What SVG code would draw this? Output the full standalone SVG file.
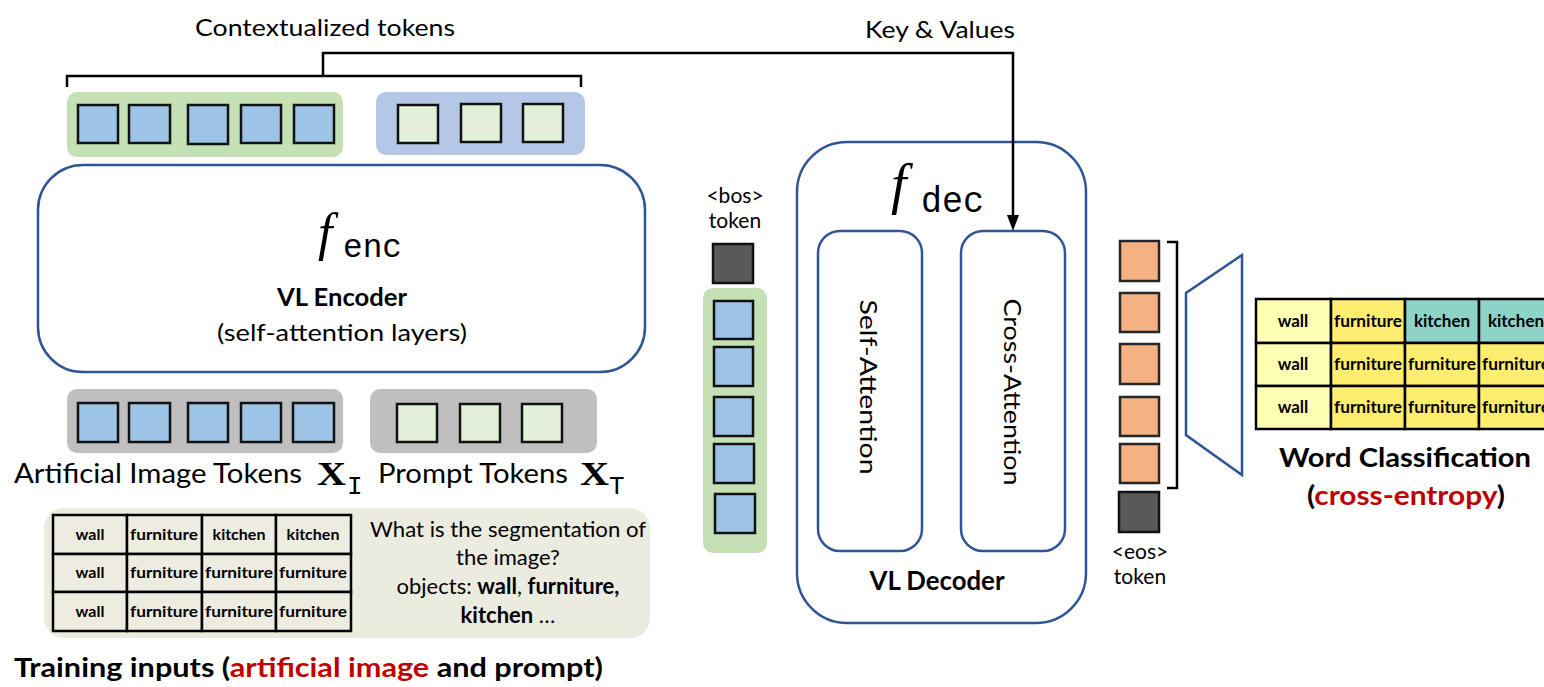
<svg xmlns="http://www.w3.org/2000/svg" width="1544" height="687" viewBox="0 0 1544 687">
<style>
text{font-family:Lato,"Open Sans","Liberation Sans",sans-serif;fill:#000}
.t24{font-size:24px}
.b{font-weight:bold}
.blk{stroke:#000;stroke-width:2.5;fill:none}
.blue{stroke:#2f5597;stroke-width:2.5;fill:#fff}
.bt{fill:#9dc3e6;stroke:#111;stroke-width:2.5}
.gt{fill:#e2f0d9;stroke:#111;stroke-width:2.5}
.ot{fill:#f4b183;stroke:#262626;stroke-width:2.5}
.dt{fill:#595959;stroke:#111;stroke-width:2.5}
.cell{stroke:#000;stroke-width:2.5}
.ct{font-size:16px;font-weight:bold;text-anchor:middle}
.rt{font-size:17px;font-weight:bold;text-anchor:middle}
.mf{font-family:"Liberation Serif","DejaVu Serif",serif;font-style:italic}
.mx{font-family:"Liberation Serif","DejaVu Serif",serif;font-weight:bold}
.mono{font-family:"Liberation Mono","DejaVu Sans Mono",monospace}
.mid{text-anchor:middle}
.tok{font-size:21px;text-anchor:middle}
</style>

<g id="labels-top">
<text class="t24" x="195" y="36" textLength="260" lengthAdjust="spacingAndGlyphs">Contextualized tokens</text>
<text class="t24" x="865" y="38" textLength="150" lengthAdjust="spacingAndGlyphs">Key &amp; Values</text>
</g>

<g id="context-tokens">
<rect x="67" y="92" width="276" height="65" rx="10" fill="#c5e0b4"/>
<rect x="376" y="92" width="209" height="63" rx="10" fill="#b4c7e7"/>
<rect class="bt" x="78" y="105" width="40" height="38"/>
<rect class="bt" x="129" y="105" width="41" height="38"/>
<rect class="bt" x="188" y="105" width="40" height="39"/>
<rect class="bt" x="241" y="105" width="40" height="38"/>
<rect class="bt" x="294" y="105" width="40" height="38"/>
<rect class="gt" x="398" y="105" width="40" height="38"/>
<rect class="gt" x="461" y="104" width="40" height="38"/>
<rect class="gt" x="523" y="104" width="40" height="38"/>
</g>

<g id="encoder">
<rect class="blue" x="38" y="165" width="607" height="207" rx="45"/>
<text class="mf" x="318" y="250" font-size="52">f</text>
<text class="mono" x="343" y="257" font-size="34" textLength="59" lengthAdjust="spacingAndGlyphs">enc</text>
<text class="b mid" x="342" y="306" font-size="25" textLength="130" lengthAdjust="spacingAndGlyphs">VL Encoder</text>
<text class="t24 mid" x="342" y="341" textLength="250" lengthAdjust="spacingAndGlyphs">(self-attention layers)</text>
</g>

<g id="input-tokens">
<rect x="67" y="389" width="276" height="64" rx="10" fill="#bfbfbf"/>
<rect x="370" y="389" width="227" height="64" rx="10" fill="#bfbfbf"/>
<rect class="bt" x="78" y="403" width="40" height="39"/>
<rect class="bt" x="129" y="403" width="41" height="39"/>
<rect class="bt" x="188" y="403" width="40" height="39"/>
<rect class="bt" x="241" y="403" width="40" height="39"/>
<rect class="bt" x="293" y="403" width="41" height="39"/>
<rect class="gt" x="397" y="404" width="40" height="38"/>
<rect class="gt" x="460" y="404" width="40" height="38"/>
<rect class="gt" x="522" y="404" width="40" height="38"/>
<text x="14" y="483" font-size="27" textLength="288" lengthAdjust="spacingAndGlyphs">Artificial Image Tokens</text>
<text class="mx" x="317" y="485" font-size="34" textLength="29" lengthAdjust="spacingAndGlyphs">X</text>
<text class="mono" x="347" y="494" font-size="26">I</text>
<text x="378" y="483" font-size="27" textLength="190" lengthAdjust="spacingAndGlyphs">Prompt Tokens</text>
<text class="mx" x="580" y="485" font-size="34" textLength="29" lengthAdjust="spacingAndGlyphs">X</text>
<text class="mono" x="609" y="494" font-size="26">T</text>
</g>

<g id="training-inputs">
<rect x="44" y="508" width="606" height="130" rx="20" fill="#ecebdf"/>
<g fill="#eeece1">
<rect class="cell" x="53" y="515" width="74" height="39"/>
<rect class="cell" x="127" y="515" width="75" height="39"/>
<rect class="cell" x="202" y="515" width="74" height="39"/>
<rect class="cell" x="276" y="515" width="75" height="39"/>
<rect class="cell" x="53" y="554" width="74" height="38"/>
<rect class="cell" x="127" y="554" width="75" height="38"/>
<rect class="cell" x="202" y="554" width="74" height="38"/>
<rect class="cell" x="276" y="554" width="75" height="38"/>
<rect class="cell" x="53" y="592" width="74" height="39"/>
<rect class="cell" x="127" y="592" width="75" height="39"/>
<rect class="cell" x="202" y="592" width="74" height="39"/>
<rect class="cell" x="276" y="592" width="75" height="39"/>
</g>
<text class="ct" x="90" y="540">wall</text>
<text class="ct" x="164" y="540" textLength="68" lengthAdjust="spacingAndGlyphs">furniture</text>
<text class="ct" x="239" y="540">kitchen</text>
<text class="ct" x="313" y="540">kitchen</text>
<text class="ct" x="90" y="578">wall</text>
<text class="ct" x="164" y="578" textLength="68" lengthAdjust="spacingAndGlyphs">furniture</text>
<text class="ct" x="239" y="578" textLength="68" lengthAdjust="spacingAndGlyphs">furniture</text>
<text class="ct" x="313" y="578" textLength="68" lengthAdjust="spacingAndGlyphs">furniture</text>
<text class="ct" x="90" y="617">wall</text>
<text class="ct" x="164" y="617" textLength="68" lengthAdjust="spacingAndGlyphs">furniture</text>
<text class="ct" x="239" y="617" textLength="68" lengthAdjust="spacingAndGlyphs">furniture</text>
<text class="ct" x="313" y="617" textLength="68" lengthAdjust="spacingAndGlyphs">furniture</text>
<text class="mid" x="508" y="537" font-size="22" textLength="276" lengthAdjust="spacingAndGlyphs">What is the segmentation of</text>
<text class="mid" x="508" y="565" font-size="22">the image?</text>
<text class="mid" x="508" y="594" font-size="22">objects: <tspan class="b">wall</tspan>, <tspan class="b">furniture,</tspan></text>
<text class="mid" x="508" y="623" font-size="22"><tspan class="b">kitchen</tspan> …</text>
<text class="b" x="14" y="677" font-size="26" textLength="589" lengthAdjust="spacingAndGlyphs">Training inputs (<tspan fill="#c00000">artificial image</tspan> and prompt)</text>
</g>

<g id="bos">
<text class="tok" x="735" y="203">&lt;bos&gt;</text>
<text class="tok" x="735" y="228">token</text>
<rect class="dt" x="713" y="244" width="40" height="39"/>
<rect x="703" y="288" width="64" height="265" rx="10" fill="#c5e0b4"/>
<rect class="bt" x="714" y="301" width="39" height="38"/>
<rect class="bt" x="714" y="347" width="39" height="39"/>
<rect class="bt" x="714" y="397" width="39" height="39"/>
<rect class="bt" x="714" y="444" width="40" height="39"/>
<rect class="bt" x="715" y="494" width="40" height="39"/>
</g>

<g id="decoder">
<rect class="blue" x="797" y="142" width="289" height="481" rx="50"/>
<text class="mf" x="891" y="203" font-size="56">f</text>
<text class="mono" x="921" y="212" font-size="36" textLength="63" lengthAdjust="spacingAndGlyphs">dec</text>
<rect class="blue" x="818" y="231" width="104" height="320" rx="22"/>
<rect class="blue" x="961" y="231" width="104" height="320" rx="22"/>
<text class="t24 mid" transform="translate(860,387) rotate(90)" textLength="175" lengthAdjust="spacingAndGlyphs">Self-Attention</text>
<text class="t24 mid" transform="translate(1004,392) rotate(90)" textLength="187" lengthAdjust="spacingAndGlyphs">Cross-Attention</text>
<text class="b mid" x="937" y="590" font-size="26" textLength="135" lengthAdjust="spacingAndGlyphs">VL Decoder</text>
</g>

<g id="output-tokens">
<rect class="ot" x="1120" y="241" width="39" height="40"/>
<rect class="ot" x="1120" y="293" width="39" height="39"/>
<rect class="ot" x="1120" y="344" width="39" height="40"/>
<rect class="ot" x="1120" y="397" width="39" height="39"/>
<rect class="ot" x="1120" y="444" width="39" height="39"/>
<rect class="dt" x="1119" y="492" width="40" height="40"/>
<text class="tok" x="1140" y="559">&lt;eos&gt;</text>
<text class="tok" x="1140" y="584">token</text>
</g>

<g id="classifier">
<polygon points="1242,255 1186,293 1186,435 1242,475" fill="#fff" stroke="#2f5597" stroke-width="2.5"/>
</g>

<g id="word-classification">
<rect class="cell" x="1256" y="299" width="75" height="44" fill="#ffffb3"/>
<rect class="cell" x="1331" y="299" width="74" height="44" fill="#ffed6f"/>
<rect class="cell" x="1405" y="299" width="74" height="44" fill="#8dd3c7"/>
<rect class="cell" x="1479" y="299" width="74" height="44" fill="#8dd3c7"/>
<rect class="cell" x="1256" y="343" width="75" height="43" fill="#ffffb3"/>
<rect class="cell" x="1331" y="343" width="74" height="43" fill="#ffed6f"/>
<rect class="cell" x="1405" y="343" width="74" height="43" fill="#ffed6f"/>
<rect class="cell" x="1479" y="343" width="74" height="43" fill="#ffed6f"/>
<rect class="cell" x="1256" y="386" width="75" height="43" fill="#ffffb3"/>
<rect class="cell" x="1331" y="386" width="74" height="43" fill="#ffed6f"/>
<rect class="cell" x="1405" y="386" width="74" height="43" fill="#ffed6f"/>
<rect class="cell" x="1479" y="386" width="74" height="43" fill="#ffed6f"/>
<text class="rt" x="1293" y="327">wall</text>
<text class="rt" x="1368" y="327" textLength="68" lengthAdjust="spacingAndGlyphs">furniture</text>
<text class="rt" x="1442" y="327">kitchen</text>
<text class="rt" x="1516" y="327">kitchen</text>
<text class="rt" x="1293" y="370">wall</text>
<text class="rt" x="1368" y="370" textLength="68" lengthAdjust="spacingAndGlyphs">furniture</text>
<text class="rt" x="1442" y="370" textLength="68" lengthAdjust="spacingAndGlyphs">furniture</text>
<text class="rt" x="1516" y="370" textLength="68" lengthAdjust="spacingAndGlyphs">furniture</text>
<text class="rt" x="1293" y="413">wall</text>
<text class="rt" x="1368" y="413" textLength="68" lengthAdjust="spacingAndGlyphs">furniture</text>
<text class="rt" x="1442" y="413" textLength="68" lengthAdjust="spacingAndGlyphs">furniture</text>
<text class="rt" x="1516" y="413" textLength="68" lengthAdjust="spacingAndGlyphs">furniture</text>
<text class="b mid" x="1405" y="467" font-size="27" textLength="252" lengthAdjust="spacingAndGlyphs">Word Classification</text>
<text class="b mid" x="1406" y="505" font-size="27" textLength="198" lengthAdjust="spacingAndGlyphs">(<tspan fill="#c00000">cross-entropy</tspan>)</text>
</g>

<g id="connectors">
<path class="blk" d="M67,87 V76 H581 V87"/>
<path class="blk" d="M323,76 V53 H1013 V217"/>
<polygon points="1007,215 1019,215 1013,231" fill="#000"/>
<path class="blk" d="M1167,242 H1177 V488 H1167"/>
</g>
</svg>
